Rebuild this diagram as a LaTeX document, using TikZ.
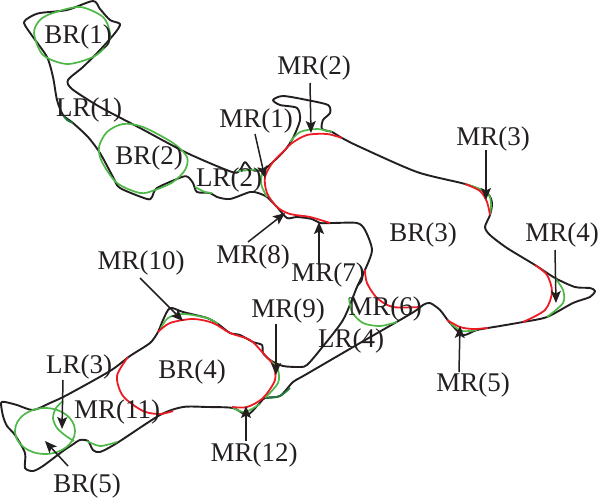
\documentclass[tikz,border=0pt]{standalone}
\usepackage{fontspec}
\setmainfont{Liberation Serif}
\usetikzlibrary{arrows.meta}
\definecolor{ink}{HTML}{231F20}
\definecolor{arcgreen}{HTML}{4DB848}
\definecolor{deepgreen}{HTML}{1E7B3C}
\definecolor{arcred}{HTML}{ED1C24}
\tikzset{
  outline/.style={draw=ink,line width=1.9pt,line join=round,smooth cycle,tension=0.45},
  greenarc/.style={draw=arcgreen,line width=1.7pt},
  deeparc/.style={draw=deepgreen,line width=1.8pt},
  redarc/.style={draw=arcred,line width=1.8pt},
  lbl/.style={font=\fontsize{27}{27}\selectfont,text=ink,inner sep=0pt,yshift=-2pt},
  pointer/.style={draw=ink,line width=1.5pt,-{Stealth[length=12pt,width=10pt,inset=2.5pt]}}
}
\begin{document}
\begin{tikzpicture}[x=1pt,y=-1pt]
\useasboundingbox (0,0) rectangle (600,503);
% boundary
\path[outline] plot coordinates {(93,1)(100,9)(110,20)(120,24)(115,33)(100,50)(83,67)(68,80)(72,89)(100,107)(140,128)(187,153)(232,172)(240,170)(245,162)(252,170)(263,170)(273,162)(285,150)(293,138)(300,120)(297,108)(280,105)(273,100)(283,96)(307,100)(328,105)(330,113)(323,120)(322,129)(332,132)(342,138)(360,147)(417,172)(465,184)(487,193)(492,203)(490,215)(485,227)(490,235)(507,248)(535,265)(555,278)(575,287)(590,288)(595,291)(590,297)(573,303)(547,317)(523,322)(500,326)(477,330)(463,335)(450,323)(440,310)(430,303)(423,305)(412,313)(360,343)(305,375)(293,382)(280,396)(265,398)(258,405)(247,415)(233,408)(207,407)(183,407)(160,415)(117,443)(100,452)(93,450)(88,441)(80,440)(72,445)(63,451)(43,466)(33,471)(25,468)(25,453)(15,435)(7,426)(3,416)(1,403)(5,402)(17,405)(33,410)(50,403)(67,395)(110,371)(130,356)(150,343)(158,332)(163,320)(170,308)(183,312)(207,318)(218,324)(230,333)(240,335)(253,342)(262,345)(263,353)(270,360)(283,366)(300,367)(307,365)(320,350)(343,320)(357,287)(365,270)(372,250)(365,230)(357,223)(333,223)(320,223)(312,219)(297,217)(287,218)(277,207)(267,197)(258,193)(250,192)(230,199)(217,197)(210,193)(197,192)(193,183)(188,177)(182,177)(157,188)(152,197)(147,199)(120,188)(113,177)(100,153)(88,137)(73,123)(63,115)(57,100)(53,77)(47,57)(33,37)(24,23)(30,17)(40,13)(67,10)};
% green circles and arcs
\draw[greenarc] plot[smooth cycle] coordinates {(34,33)(40,20)(53,13)(80,7)(103,17)(110,33)(107,45)(93,57)(67,64)(43,55)};
\draw[greenarc] plot[smooth cycle] coordinates {(99,147)(107,132)(123,124)(143,127)(173,143)(187,157)(185,170)(173,182)(155,190)(140,193)(117,183)(102,162)};
\draw[greenarc] (45,431) ellipse (30 and 23);
\draw[greenarc] plot[smooth] coordinates {(63,401)(56,408)(53,418)(57,428)(66,436)(74,441)};
\draw[greenarc] plot[smooth] coordinates {(87,441)(100,446)(117,442)};
\draw[greenarc] plot[smooth] coordinates {(195,187)(205,192)(212,193)};
\draw[greenarc] plot[smooth] coordinates {(349,298)(352,312)(363,323)(380,326)(397,322)};
\draw[greenarc] plot[smooth] coordinates {(555,278)(563,290)(563,303)(547,317)};
\draw[greenarc] plot[smooth] coordinates {(332,132)(317,129)(300,132)(290,142)};
\draw[greenarc] plot[smooth] coordinates {(238,171)(252,170)(262,170)(261,180)(262,187)(267,197)};
\draw[greenarc] plot[smooth] coordinates {(465,184)(480,189)(489,195)(491,205)(490,215)};
\draw[greenarc] plot[smooth] coordinates {(161,328)(168,318)(183,314)(207,318)(218,324)};
\draw[greenarc] plot[smooth] coordinates {(270,360)(278,370)(278,383)(265,398)};
\draw[greenarc] plot[smooth] coordinates {(233,408)(245,412)(260,404)};
\draw[greenarc] plot[smooth] coordinates {(450,323)(462,331)(477,330)};
\draw[deeparc] plot[smooth] coordinates {(267,398)(280,396)(290,388)};
\draw[deeparc] plot[smooth] coordinates {(63,115)(67,120)(73,123)};
% red arcs
\draw[redarc] plot[smooth] coordinates {(342,138)(327,134)(307,135)(292,143)(285,150)(273,162)(265,177)(267,193)(277,207)(290,214)(310,217)(330,223)};
\draw[redarc] plot[smooth] coordinates {(465,184)(480,191)(487,202)(490,215)};
\draw[redarc] plot[smooth] coordinates {(535,265)(547,275)(552,292)(545,310)(523,322)};
\draw[redarc] plot[smooth] coordinates {(447,320)(460,327)(473,329)(488,328)};
\draw[redarc] plot[smooth] coordinates {(365,270)(367,283)(377,298)(393,307)(420,307)};
\draw[redarc] plot[smooth] coordinates {(158,332)(170,323)(193,319)(213,323)(230,333)(250,340)(263,353)(273,365)(275,380)(263,398)(247,407)(232,407)};
\draw[redarc] plot[smooth] coordinates {(128,357)(117,376)(123,396)(143,411)(160,414)(173,411)};
% labels
\node[lbl] (br1) at (78,35) {BR(1)};
\node[lbl] (lr1) at (89,108) {LR(1)};
\node[lbl] (br2) at (149,156) {BR(2)};
\node[lbl] (lr2) at (229,178) {LR(2)};
\node[lbl] (mr1) at (256,119) {MR(1)};
\node[lbl] (mr2) at (314,66) {MR(2)};
\node[lbl] (mr3) at (493,137) {MR(3)};
\node[lbl] (mr4) at (562,233) {MR(4)};
\node[lbl] (br3) at (423,233) {BR(3)};
\node[lbl] (mr7) at (328,273) {MR(7)};
\node[lbl] (mr8) at (253,255) {MR(8)};
\node[lbl] (mr6) at (385,307) {MR(6)};
\node[lbl] (lr4) at (351,339) {LR(4)};
\node[lbl] (mr5) at (473,383) {MR(5)};
\node[lbl] (mr9) at (288,309) {MR(9)};
\node[lbl] (mr10) at (141,261) {MR(10)};
\node[lbl] (br4) at (192,370) {BR(4)};
\node[lbl] (lr3) at (79,365) {LR(3)};
\node[lbl] (mr11) at (117,410) {MR(11)};
\node[lbl] (mr12) at (254,453) {MR(12)};
\node[lbl] (br5) at (87,484) {BR(5)};
% pointer ends
\coordinate (t1) at (265,178);
\coordinate (t2) at (311,133);
\coordinate (t3) at (486,200);
\coordinate (t4) at (556,303);
\coordinate (t5) at (460,326);
\coordinate (t7) at (319,222);
\coordinate (t8) at (285,213);
\coordinate (t9) at (276,375);
\coordinate (t10) at (183,321);
\coordinate (t12) at (246,406);
\coordinate (tl3) at (62,429);
\coordinate (tb5) at (45,441);
% pointers
\draw[pointer] (255,134) -- (t1);
\draw[pointer] (310,83) -- (t2);
\draw[pointer] (486,150) -- (t3);
\draw[pointer] (555,250) -- (t4);
\draw[pointer] (459,372) -- (t5);
\draw[pointer] (319,265) -- (t7);
\draw[pointer] (248,242) -- (t8);
\draw[pointer] (276,324) -- (t9);
\draw[pointer] (140,278) -- (t10);
\draw[pointer] (246,441) -- (t12);
\draw[pointer] (63,380) -- (tl3);
\draw[pointer] (68,466) -- (tb5);
\end{tikzpicture}
\end{document}
